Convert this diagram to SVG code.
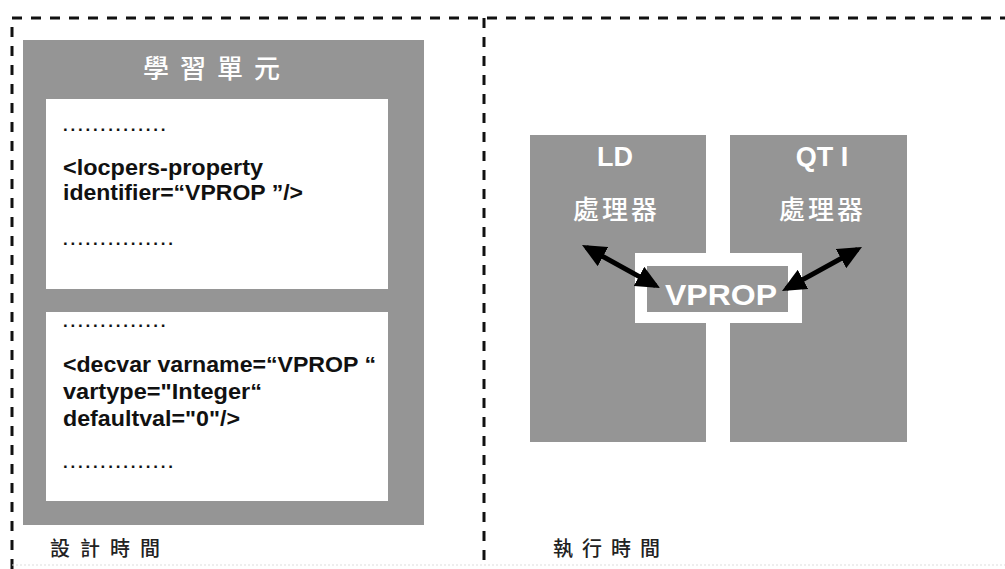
<svg xmlns="http://www.w3.org/2000/svg" width="1005" height="569" viewBox="0 0 1005 569">
<defs>
<style>
.border{fill:none;stroke:#111;stroke-width:3;stroke-dasharray:10 9}
.gray{fill:#959595}
.white{fill:#fff}
.code{font-family:"Liberation Sans",Arial,sans-serif;font-weight:bold;font-size:22px;fill:#111}
.dots{font-family:"Liberation Sans",Arial,sans-serif;font-weight:bold;font-size:17px;fill:#111;letter-spacing:2.8px}
.cjk{font-family:"Liberation Sans","Noto Sans CJK TC",sans-serif}
.lbl{font-size:26px;fill:#fff;font-weight:500}
.hdr{font-size:27px;font-weight:bold;fill:#fff}
.time{font-size:20px;fill:#222;font-weight:500}
.arrow{stroke:#000;stroke-width:5;fill:none;marker-start:url(#ah);marker-end:url(#ah)}
</style>
<marker id="ah" viewBox="0 0 24 22" markerWidth="24" markerHeight="22" refX="19" refY="11" orient="auto-start-reverse" markerUnits="userSpaceOnUse">
<path d="M0,0 L24,11 L0,22 z" fill="#000"/>
</marker>
</defs>
<rect width="1005" height="569" fill="#fff"/>
<g id="frame">
<path class="border" d="M12,569 V18 H1005"/>
<path class="border" d="M484,18 V569"/>
<line x1="12" y1="565" x2="1005" y2="565" stroke="#ddd" stroke-width="1" stroke-dasharray="2 2"/>
</g>
<g id="learning-unit">
<rect class="gray" x="23" y="40" width="401" height="485"/>
<text class="cjk" x="143" y="78" font-size="26" font-weight="500" fill="#fff" letter-spacing="11">學習單元</text>
</g>
<g id="locpers-box">
<rect class="white" x="46" y="99" width="342" height="190"/>
<text class="dots" x="63" y="131">..............</text>
<text class="code" x="63" y="175" textLength="200" lengthAdjust="spacingAndGlyphs">&lt;locpers-property</text>
<text class="code" x="63" y="200" textLength="240" lengthAdjust="spacingAndGlyphs">identifier=“VPROP ”/&gt;</text>
<text class="dots" x="63" y="245">...............</text>
</g>
<g id="decvar-box">
<rect class="white" x="46" y="312" width="342" height="189"/>
<text class="dots" x="63" y="327">..............</text>
<text class="code" x="63" y="372" textLength="313" lengthAdjust="spacingAndGlyphs">&lt;decvar varname=“VPROP “</text>
<text class="code" x="63" y="399" textLength="199" lengthAdjust="spacingAndGlyphs">vartype="Integer“</text>
<text class="code" x="63" y="426" textLength="177" lengthAdjust="spacingAndGlyphs">defaultval="0"/&gt;</text>
<text class="dots" x="63" y="468">...............</text>
</g>
<g id="design-time">
<text class="cjk time" x="50" y="556" letter-spacing="10">設計時間</text>
</g>
<g id="run-time">
<text class="cjk time" x="553" y="556" letter-spacing="9">執行時間</text>
</g>
<g id="ld-processor">
<rect class="gray" x="530" y="135" width="176" height="307"/>
<text class="cjk hdr" x="615" y="166" text-anchor="middle">LD</text>
<text class="cjk lbl" x="573" y="219" letter-spacing="3">處理器</text>
</g>
<g id="qti-processor">
<rect class="gray" x="730" y="135" width="177" height="307"/>
<text class="cjk hdr" x="822" y="166" text-anchor="middle">QT I</text>
<text class="cjk lbl" x="779" y="219" letter-spacing="3">處理器</text>
</g>
<g id="vprop">
<rect class="white" x="635" y="253" width="167" height="70"/>
<rect class="gray" x="647" y="266" width="141" height="46"/>
<text x="665" y="305" font-family="Liberation Sans,Arial,sans-serif" font-weight="bold" font-size="30" fill="#fff" textLength="112" lengthAdjust="spacingAndGlyphs">VPROP</text>
</g>
<g id="connectors">
<line class="arrow" x1="586.4" y1="247.4" x2="655.6" y2="285.6"/>
<line class="arrow" x1="857.6" y1="249.4" x2="786.4" y2="288.6"/>
</g>
</svg>
